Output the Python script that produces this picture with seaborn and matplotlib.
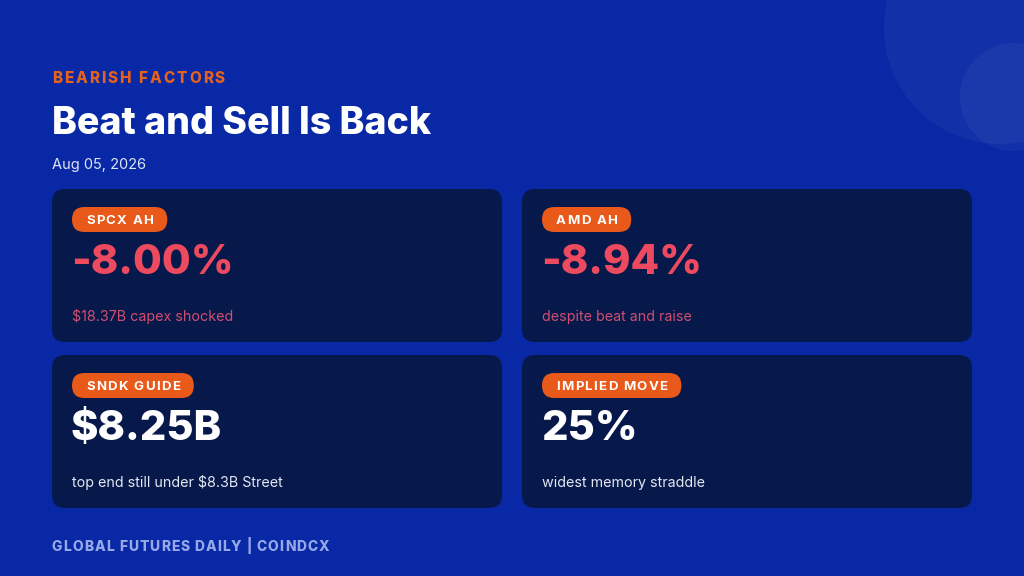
import matplotlib
matplotlib.use("Agg")
import matplotlib.pyplot as plt
from matplotlib.patches import FancyBboxPatch, Circle
from matplotlib.font_manager import FontProperties
import seaborn as sns

sns.set_theme(style="white")
plt.rcParams['font.family'] = ['Inter', 'DejaVu Sans']

# data
kicker = "BEARISH FACTORS"
title = "Beat and Sell Is Back"
date = "Aug 05, 2026"
labels = ["SPCX AH", "AMD AH", "SNDK GUIDE", "IMPLIED MOVE"]
values = ["-8.00%", "-8.94%", "$8.25B", "25%"]
notes = ["$18.37B capex shocked", "despite beat and raise",
         "top end still under $8.3B Street", "widest memory straddle"]
tones = ["neg", "neg", "neutral", "neutral"]
footer = "GLOBAL FUTURES DAILY | COINDCX"

BG = "#0828a5"
CARD = "#06194a"
ORANGE = "#e8591a"
value_col = {"neg": "#ee4a5f", "neutral": "#ffffff"}
note_col = {"neg": "#d24e70", "neutral": "#e3e7f2"}

fig = plt.figure(figsize=(10.24, 5.76), dpi=100)
fig.patch.set_facecolor(BG)
ax = fig.add_axes([0, 0, 1, 1])
ax.set_xlim(0, 1024)
ax.set_ylim(576, 0)
ax.axis("off")
renderer = fig.canvas.get_renderer()


def text_w(s, size, weight):
    fp = FontProperties(family=plt.rcParams['font.family'], size=size, weight=weight)
    w, h, d = renderer.get_text_width_height_descent(s, fp, ismath=False)
    return w


def spaced(x, y, s, size, weight, color, gap, **kw):
    # draw letters one by one so the tracking looks like the original
    for i, ch in enumerate(s):
        xi = x + text_w(s[:i], size, weight) + i * gap
        ax.text(xi, y, ch, fontsize=size, fontweight=weight, color=color,
                ha="left", va="baseline", **kw)
    return text_w(s, size, weight) + (len(s) - 1) * gap


# decorative circles top right
ax.add_patch(Circle((1000, 28), 116, facecolor="white", alpha=0.045, lw=0))
ax.add_patch(Circle((1014, 97), 54, facecolor="white", alpha=0.045, lw=0))

# header
spaced(52, 83, kicker, 11, "heavy", "#e2621e", 2.0)
ax.text(52, 134, title, fontsize=27, fontweight="heavy", color="white",
        ha="left", va="baseline")
ax.text(52, 169, date, fontsize=10.5, color="#dfe4f5", ha="left", va="baseline")

# cards
pos = [(52, 189), (522, 189), (52, 355), (522, 355)]
cw, ch = 450, 153
for (cx, cy), lab, val, note, tone in zip(pos, labels, values, notes, tones):
    ax.add_patch(FancyBboxPatch((cx, cy), cw, ch,
                                boxstyle="round,pad=0,rounding_size=13",
                                facecolor=CARD, edgecolor="none"))
    tw = text_w(lab, 9.5, "bold") + (len(lab) - 1) * 1.3
    ax.add_patch(FancyBboxPatch((cx + 20, cy + 18), tw + 28, 25,
                                boxstyle="round,pad=0,rounding_size=12.5",
                                facecolor=ORANGE, edgecolor="none"))
    spaced(cx + 34, cy + 35, lab, 9.5, "bold", "white", 1.3)
    ax.text(cx + 19, cy + 85, val, fontsize=30, fontweight="heavy",
            color=value_col[tone], ha="left", va="baseline")
    ax.text(cx + 20, cy + 132, note, fontsize=10.3, color=note_col[tone],
            ha="left", va="baseline")

# footer
spaced(52, 551, footer, 10, "heavy", "#97a8e8", 1.0)

fig.savefig("out.png", dpi=100, facecolor=BG)
